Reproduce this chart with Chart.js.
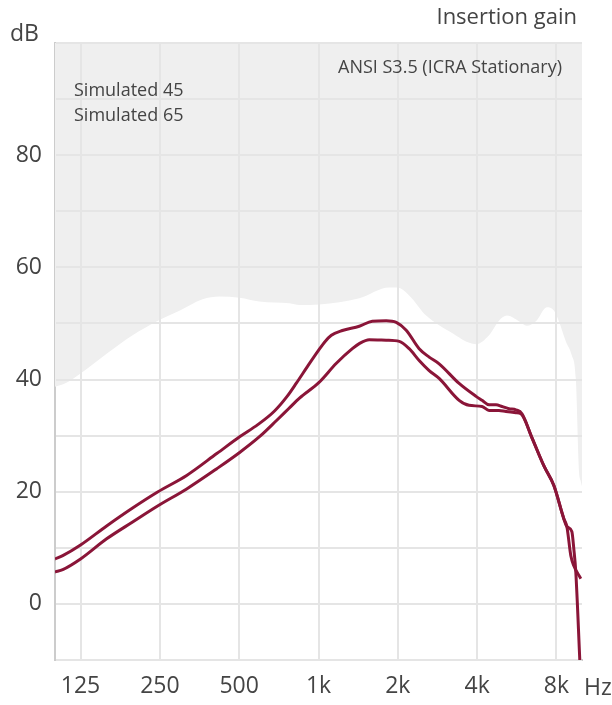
<!DOCTYPE html>
<html>
<head>
<meta charset="utf-8">
<script src="https://cdn.jsdelivr.net/npm/chart.js@4.4.1/dist/chart.umd.min.js"></script>
<style>
  html, body { margin: 0; padding: 0; background: #ffffff; }
  #wrap { width: 612px; height: 705px; position: relative; }
</style>
</head>
<body>
<div id="wrap"><canvas id="c" width="612" height="705"></canvas></div>
<script>
// ---- Data ----
const xTickValues = [125, 250, 500, 1000, 2000, 4000, 8000];
const xTickLabels = ['125', '250', '500', '1k', '2k', '4k', '8k'];
const yTickValues = [0, 20, 40, 60, 80];

// ANSI S3.5 (ICRA Stationary) region boundary (white area below, grey above)
const ansiFreq = [100, 109, 125, 157, 197, 246, 298, 363, 421, 502, 597, 776, 847, 1008, 1429, 1856, 1990, 2208, 2561, 3132, 3962, 4438, 4842, 5191, 5763, 6180, 6686, 7360, 7820, 8170, 8683, 9150, 9475, 9727, 9900, 10000];
const ansiLevel = [38.7, 39.3, 41.1, 44.6, 47.9, 50.5, 52.3, 54.3, 54.8, 54.6, 53.9, 53.6, 53.3, 53.4, 54.5, 56.4, 56.4, 55.0, 51.4, 48.6, 46.3, 47.9, 50.5, 51.4, 50.4, 49.6, 50.4, 52.9, 52.3, 50.4, 46.8, 44.3, 40.2, 24.1, 21.8, 21.0];

// Simulated 45
const sim45Freq = [100, 107, 125, 157, 197, 246, 316, 411, 502, 590, 681, 760, 825, 910, 1000, 1060, 1119, 1232, 1428, 1600, 1807, 1973, 2152, 2410, 2630, 2870, 3417, 3962, 4175, 4438, 4717, 4970, 5280, 5615, 5920, 6460, 7170, 7820, 8530, 8760, 9150, 9310, 9475, 9810];
const sim45Gain = [8.0, 8.6, 10.5, 13.9, 17.1, 20.0, 22.9, 26.8, 29.8, 32.0, 34.4, 37.0, 39.4, 42.4, 45.2, 46.8, 47.9, 48.75, 49.5, 50.4, 50.5, 50.2, 48.8, 45.5, 44.0, 42.8, 39.3, 37.0, 36.3, 35.5, 35.5, 35.2, 34.8, 34.6, 33.9, 29.6, 24.6, 21.1, 15.2, 13.8, 12.9, 9.8, 5.6, -10.0];

// Simulated 65
const sim65Freq = [100, 107, 125, 157, 197, 246, 316, 411, 502, 600, 693, 770, 847, 1000, 1169, 1344, 1428, 1558, 1807, 2025, 2209, 2410, 2630, 2870, 3417, 3727, 4175, 4438, 4840, 5147, 5615, 5865, 6460, 7170, 7820, 8530, 8760, 9070, 9310, 9900];
const sim65Gain = [5.7, 6.1, 8.0, 11.6, 14.6, 17.5, 20.5, 24.1, 27.0, 29.9, 32.7, 34.8, 36.7, 39.4, 42.9, 45.5, 46.4, 47.1, 47.0, 46.8, 45.5, 43.4, 41.6, 40.2, 36.3, 35.4, 35.2, 34.5, 34.5, 34.3, 34.1, 33.9, 29.6, 24.6, 21.1, 15.2, 13.8, 8.6, 6.8, 4.5];

const toPoints = (xs, ys) => xs.map((x, i) => ({ x: x, y: ys[i] }));

const FONT = "'Open Sans', 'Noto Sans', sans-serif";
const TEXT = '#444444';
const RED = '#8a1538';

const gridOverFill = {
  id: 'gridOverFill',
  afterDatasetDraw(chart, args) {
    if (args.index !== 0) return;
    const ctx = chart.ctx;
    ctx.save();
    ['x', 'y'].forEach(k => {
      const s = chart.scales[k];
      if (s && typeof s.drawGrid === 'function') s.drawGrid(chart.chartArea);
    });
    ctx.restore();
  }
};

const texts = {
  id: 'texts',
  afterDraw(chart) {
    const ctx = chart.ctx;
    ctx.save();
    ctx.fillStyle = TEXT;
    ctx.textBaseline = 'middle';
    ctx.font = '22px ' + FONT;
    ctx.textAlign = 'right';
    ctx.fillText('Insertion gain', 577, 18);
    ctx.font = '23px ' + FONT;
    ctx.textAlign = 'left';
    ctx.fillText('dB', 10, 34);
    ctx.fillText('Hz', 584, 688);
    ctx.font = '18px ' + FONT;
    ctx.textAlign = 'right';
    ctx.fillText('ANSI S3.5 (ICRA Stationary)', 562, 68);
    ctx.textAlign = 'left';
    ctx.fillText('Simulated 45', 74, 91);
    ctx.fillText('Simulated 65', 74, 116);
    ctx.restore();
  }
};

new Chart(document.getElementById('c'), {
  type: 'line',
  data: {
    datasets: [
      {
        label: 'ANSI S3.5 (ICRA Stationary)',
        data: toPoints(ansiFreq, ansiLevel),
        fill: 'end',
        backgroundColor: '#efefef',
        borderWidth: 0,
        borderColor: 'rgba(0,0,0,0)',
        pointRadius: 0,
        cubicInterpolationMode: 'monotone',
        order: 10
      },
      {
        label: 'Simulated 45',
        data: toPoints(sim45Freq, sim45Gain),
        fill: false,
        borderColor: RED,
        borderWidth: 3,
        pointRadius: 0,
        cubicInterpolationMode: 'monotone',
        order: 1
      },
      {
        label: 'Simulated 65',
        data: toPoints(sim65Freq, sim65Gain),
        fill: false,
        borderColor: RED,
        borderWidth: 3,
        pointRadius: 0,
        cubicInterpolationMode: 'monotone',
        order: 2
      }
    ]
  },
  options: {
    responsive: false,
    animation: false,
    layout: { padding: { top: 43, right: 30, left: 0, bottom: 0 } },
    plugins: {
      legend: { display: false },
      tooltip: { enabled: false },
      title: { display: false }
    },
    scales: {
      x: {
        type: 'logarithmic',
        min: 100,
        max: 10000,
        afterBuildTicks: s => { s.ticks = xTickValues.map(v => ({ value: v })); },
        afterFit: s => { s.height = 45; },
        ticks: {
          autoSkip: false,
          maxRotation: 0,
          padding: 13,
          color: TEXT,
          font: { family: FONT, size: 23 },
          callback: (v, i) => xTickLabels[i]
        },
        grid: { color: '#e5e5e5', lineWidth: 2, drawTicks: false },
        border: { color: '#cccccc', width: 2 }
      },
      y: {
        min: -10,
        max: 100,
        afterFit: s => { s.width = 55; },
        ticks: {
          stepSize: 10,
          padding: 13,
          color: TEXT,
          font: { family: FONT, size: 23 },
          callback: v => (yTickValues.indexOf(v) >= 0 ? String(v) : '')
        },
        grid: { color: '#e5e5e5', lineWidth: 2, drawTicks: false },
        border: { color: '#cccccc', width: 2 }
      }
    }
  },
  plugins: [gridOverFill, texts]
});
</script>
</body>
</html>
